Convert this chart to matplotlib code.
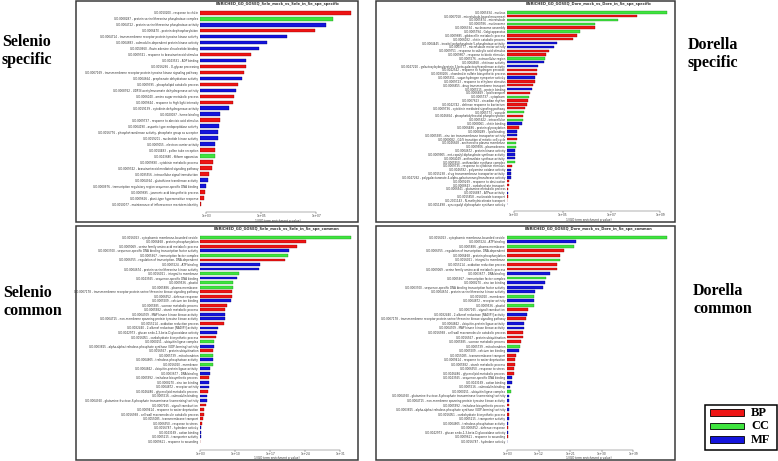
import matplotlib
matplotlib.use("Agg")
import matplotlib.pyplot as plt
from matplotlib.patches import Rectangle
import numpy as np

W, H = 778, 461

COLORS = {"BP": "#ee1414", "CC": "#3fe43f", "MF": "#1414dc"}
EDGES = {"BP": "#8a0000", "CC": "#1a8a1a", "MF": "#00006a"}

# ---------------- Selenio specific ----------------
sel_spec_terms = [
    "GO:0010200 - response to chitin",
    "GO:0008287 - protein serine/threonine phosphatase complex",
    "GO:0004722 - protein serine/threonine phosphatase activity",
    "GO:0006470 - protein dephosphorylation",
    "GO:0004714 - transmembrane receptor protein tyrosine kinase activity",
    "GO:0004683 - calmodulin-dependent protein kinase activity",
    "GO:0050660 - flavin adenine dinucleotide binding",
    "GO:0009741 - response to brassinosteroid stimulus",
    "GO:0043531 - ADP binding",
    "GO:0016266 - O-glycan processing",
    "GO:0007169 - transmembrane receptor protein tyrosine kinase signaling pathway",
    "GO:0004664 - prephenate dehydratase activity",
    "GO:0009395 - phospholipid catabolic process",
    "GO:0008762 - UDP-N-acetylmuramate dehydrogenase activity",
    "GO:0006040 - amino sugar metabolic process",
    "GO:0009644 - response to high light intensity",
    "GO:0019139 - cytokinin dehydrogenase activity",
    "GO:0020037 - heme binding",
    "GO:0009737 - response to abscisic acid stimulus",
    "GO:0004190 - aspartic-type endopeptidase activity",
    "GO:0016776 - phosphotransferase activity, phosphate group as acceptor",
    "GO:0019201 - nucleotide kinase activity",
    "GO:0009055 - electron carrier activity",
    "GO:0010483 - pollen tube reception",
    "GO:0043680 - filiform apparatus",
    "GO:0009690 - cytokinin metabolic process",
    "GO:0009742 - brassinosteroid mediated signaling pathway",
    "GO:0035556 - intracellular signal transduction",
    "GO:0004364 - glutathione transferase activity",
    "GO:0000976 - transcription regulatory region sequence-specific DNA binding",
    "GO:0009695 - jasmonic acid biosynthetic process",
    "GO:0009626 - plant-type hypersensitive response",
    "GO:0010077 - maintenance of inflorescence meristem identity",
]
sel_spec_cat = ["BP", "CC", "MF", "BP", "MF", "MF", "MF", "BP", "MF", "BP", "BP",
                "MF", "BP", "MF", "BP", "BP", "MF", "MF", "BP", "MF", "MF", "MF",
                "MF", "BP", "CC", "BP", "BP", "BP", "MF", "MF", "BP", "BP", "BP"]
# log10(1/p)
sel_spec_val = [8.26, 7.60, 7.34, 6.96, 5.94, 5.21, 4.93, 4.63, 4.45, 4.44, 4.38,
                4.31, 4.14, 4.10, 4.02, 3.97, 3.83, 3.52, 3.50, 3.46, 3.44, 3.43,
                3.34, 3.31, 3.31, 3.24, 3.23, 3.10, 3.07, 2.99, 2.96, 2.94, 2.83]
sel_spec_ticks = [3, 5, 7]

# ---------------- Dorella specific ----------------
dor_spec_terms = [
    "GO:0005634 - nucleus",
    "GO:0007018 - microtubule-based movement",
    "GO:0005874 - microtubule",
    "GO:0000786 - nucleosome",
    "GO:0006334 - nucleosome assembly",
    "GO:0005794 - Golgi apparatus",
    "GO:0009685 - gibberellin metabolic process",
    "GO:0006032 - chitin catabolic process",
    "GO:0004445 - inositol-polyphosphate 5-phosphatase activity",
    "GO:0003777 - microtubule motor activity",
    "GO:0009751 - response to salicylic acid stimulus",
    "GO:0009607 - response to biotic stimulus",
    "GO:0005576 - extracellular region",
    "GO:0004568 - chitinase activity",
    "GO:0047220 - galactosylxylosylprotein 3-beta-galactosyltransferase activity",
    "GO:0042542 - response to hydrogen peroxide",
    "GO:0030206 - chondroitin sulfate biosynthetic process",
    "GO:0005351 - sugar:hydrogen symporter activity",
    "GO:0009723 - response to ethylene stimulus",
    "GO:0006855 - drug transmembrane transport",
    "GO:0005515 - protein binding",
    "GO:0006869 - lipid transport",
    "GO:0005737 - cytoplasm",
    "GO:0007623 - circadian rhythm",
    "GO:0042742 - defense response to bacterium",
    "GO:0009736 - cytokinin mediated signaling pathway",
    "GO:0005773 - vacuole",
    "GO:0046854 - phosphatidylinositol phosphorylation",
    "GO:0005622 - intracellular",
    "GO:0008061 - chitin binding",
    "GO:0006486 - protein glycosylation",
    "GO:0008289 - lipid binding",
    "GO:0005385 - zinc ion transmembrane transporter activity",
    "GO:0000082 - G1/S transition of mitotic cell cycle",
    "GO:0046658 - anchored to plasma membrane",
    "GO:0009506 - plasmodesma",
    "GO:0004672 - protein kinase activity",
    "GO:0009905 - ent-copalyl diphosphate synthase activity",
    "GO:0004049 - anthranilate synthase activity",
    "GO:0005950 - anthranilate synthase complex",
    "GO:0009735 - response to cytokinin stimulus",
    "GO:0046592 - polyamine oxidase activity",
    "GO:0015238 - drug transmembrane transporter activity",
    "GO:0047262 - polygalacturonate 4-alpha-galacturonosyltransferase activity",
    "GO:0009269 - response to desiccation",
    "GO:0008643 - carbohydrate transport",
    "GO:0006541 - glutamine metabolic process",
    "GO:0016887 - ATPase activity",
    "GO:0015858 - nucleoside transport",
    "GO:2001143 - N-methylnicotinate transport",
    "GO:0051498 - syn-copalyl diphosphate synthase activity",
]
dor_spec_cat = ["CC", "BP", "CC", "CC", "BP", "CC", "BP", "BP", "MF", "MF", "BP",
                "BP", "CC", "MF", "MF", "BP", "BP", "MF", "BP", "BP", "MF", "BP",
                "CC", "BP", "BP", "BP", "CC", "BP", "CC", "MF", "BP", "MF", "MF",
                "BP", "CC", "CC", "MF", "MF", "MF", "CC", "BP", "MF", "MF", "MF",
                "BP", "BP", "BP", "MF", "BP", "BP", "MF"]
dor_spec_val = [9.27, 8.04, 7.25, 6.33, 6.31, 5.72, 5.61, 5.43, 4.76, 4.65, 4.45,
                4.33, 4.26, 4.22, 4.01, 3.96, 3.94, 3.86, 3.86, 3.77, 3.74, 3.66,
                3.63, 3.59, 3.53, 3.46, 3.41, 3.37, 3.36, 3.33, 3.20, 3.12, 3.12,
                3.12, 3.10, 3.10, 3.04, 3.04, 3.03, 3.03, 2.93, 2.89, 2.88, 2.88,
                2.82, 2.81, 2.77, 2.75, 2.75, 2.74, 2.74]
dor_spec_ticks = [3, 5, 7, 9]

# ---------------- Selenio common ----------------
sel_com_terms = [
    "GO:0016023 - cytoplasmic membrane-bounded vesicle",
    "GO:0006468 - protein phosphorylation",
    "GO:0009069 - serine family amino acid metabolic process",
    "GO:0003700 - sequence-specific DNA binding transcription factor activity",
    "GO:0005667 - transcription factor complex",
    "GO:0006355 - regulation of transcription, DNA-dependent",
    "GO:0005524 - ATP binding",
    "GO:0004674 - protein serine/threonine kinase activity",
    "GO:0016021 - integral to membrane",
    "GO:0043565 - sequence-specific DNA binding",
    "GO:0009536 - plastid",
    "GO:0005886 - plasma membrane",
    "GO:0007178 - transmembrane receptor protein serine/threonine kinase signaling pathway",
    "GO:0006952 - defense response",
    "GO:0005509 - calcium ion binding",
    "GO:0005985 - sucrose metabolic process",
    "GO:0005982 - starch metabolic process",
    "GO:0004709 - MAP kinase kinase kinase activity",
    "GO:0004715 - non-membrane spanning protein tyrosine kinase activity",
    "GO:0055114 - oxidation reduction process",
    "GO:0032440 - 2-alkenal reductase [NAD(P)] activity",
    "GO:0042973 - glucan endo-1,3-beta-D-glucosidase activity",
    "GO:0016051 - carbohydrate biosynthetic process",
    "GO:0000151 - ubiquitin ligase complex",
    "GO:0003825 - alpha,alpha-trehalose-phosphate synthase (UDP-forming) activity",
    "GO:0016567 - protein ubiquitination",
    "GO:0005739 - mitochondrion",
    "GO:0004805 - trehalose-phosphatase activity",
    "GO:0016020 - membrane",
    "GO:0004842 - ubiquitin-protein ligase activity",
    "GO:0003677 - DNA binding",
    "GO:0005992 - trehalose biosynthetic process",
    "GO:0008270 - zinc ion binding",
    "GO:0004872 - receptor activity",
    "GO:0046486 - glycerolipid metabolic process",
    "GO:0005516 - calmodulin binding",
    "GO:0004360 - glutamine-fructose-6-phosphate transaminase (isomerizing) activity",
    "GO:0007165 - signal transduction",
    "GO:0009414 - response to water deprivation",
    "GO:0016998 - cell wall macromolecule catabolic process",
    "GO:0055085 - transmembrane transport",
    "GO:0006950 - response to stress",
    "GO:0016787 - hydrolase activity",
    "GO:0043169 - cation binding",
    "GO:0005215 - transporter activity",
    "GO:0009611 - response to wounding",
]
sel_com_cat = ["CC", "BP", "BP", "MF", "CC", "BP", "MF", "MF", "CC", "MF", "CC",
               "CC", "BP", "BP", "MF", "BP", "BP", "MF", "MF", "BP", "MF", "MF",
               "BP", "CC", "MF", "BP", "CC", "MF", "CC", "MF", "MF", "BP", "MF",
               "MF", "BP", "MF", "MF", "BP", "BP", "BP", "BP", "BP", "MF", "MF",
               "MF", "BP"]
sel_com_val = [33.1, 24.2, 22.4, 20.7, 20.6, 19.9, 14.9, 14.7, 10.7, 10.4, 9.6,
               9.5, 9.4, 9.3, 9.1, 8.3, 8.0, 7.9, 7.9, 7.7, 6.5, 6.3, 6.2, 5.8,
               5.7, 5.6, 5.6, 5.5, 5.5, 4.9, 4.9, 4.8, 4.8, 4.7, 4.5, 4.3, 4.3,
               4.2, 3.7, 3.7, 3.5, 3.3, 3.2, 3.1, 3.1, 3.0]
sel_com_ticks = [3, 10, 17, 24, 31]

# ---------------- Dorella common ----------------
dor_com_terms = [
    "GO:0016023 - cytoplasmic membrane-bounded vesicle",
    "GO:0005524 - ATP binding",
    "GO:0005886 - plasma membrane",
    "GO:0006355 - regulation of transcription, DNA-dependent",
    "GO:0006468 - protein phosphorylation",
    "GO:0016021 - integral to membrane",
    "GO:0055114 - oxidation reduction process",
    "GO:0009069 - serine family amino acid metabolic process",
    "GO:0003677 - DNA binding",
    "GO:0005667 - transcription factor complex",
    "GO:0008270 - zinc ion binding",
    "GO:0003700 - sequence-specific DNA binding transcription factor activity",
    "GO:0004674 - protein serine/threonine kinase activity",
    "GO:0016020 - membrane",
    "GO:0004872 - receptor activity",
    "GO:0009536 - plastid",
    "GO:0007165 - signal transduction",
    "GO:0032440 - 2-alkenal reductase [NAD(P)] activity",
    "GO:0007178 - transmembrane receptor protein serine/threonine kinase signaling pathway",
    "GO:0004842 - ubiquitin-protein ligase activity",
    "GO:0004709 - MAP kinase kinase kinase activity",
    "GO:0016998 - cell wall macromolecule catabolic process",
    "GO:0016567 - protein ubiquitination",
    "GO:0005985 - sucrose metabolic process",
    "GO:0005739 - mitochondrion",
    "GO:0005509 - calcium ion binding",
    "GO:0055085 - transmembrane transport",
    "GO:0009414 - response to water deprivation",
    "GO:0005982 - starch metabolic process",
    "GO:0006950 - response to stress",
    "GO:0046486 - glycerolipid metabolic process",
    "GO:0043565 - sequence-specific DNA binding",
    "GO:0043169 - cation binding",
    "GO:0005516 - calmodulin binding",
    "GO:0000151 - ubiquitin ligase complex",
    "GO:0004360 - glutamine-fructose-6-phosphate transaminase (isomerizing) activity",
    "GO:0004715 - non-membrane spanning protein tyrosine kinase activity",
    "GO:0005992 - trehalose biosynthetic process",
    "GO:0003825 - alpha,alpha-trehalose-phosphate synthase (UDP-forming) activity",
    "GO:0016051 - carbohydrate biosynthetic process",
    "GO:0005215 - transporter activity",
    "GO:0004805 - trehalose-phosphatase activity",
    "GO:0006952 - defense response",
    "GO:0042973 - glucan endo-1,3-beta-D-glucosidase activity",
    "GO:0009611 - response to wounding",
    "GO:0016787 - hydrolase activity",
]
dor_com_cat = ["CC", "MF", "CC", "BP", "BP", "CC", "BP", "BP", "MF", "CC", "MF",
               "MF", "MF", "CC", "MF", "CC", "BP", "MF", "BP", "MF", "MF", "BP",
               "BP", "BP", "CC", "MF", "BP", "BP", "BP", "BP", "BP", "MF", "MF",
               "MF", "CC", "MF", "MF", "BP", "MF", "BP", "MF", "MF", "BP", "MF",
               "BP", "MF"]
dor_com_val = [48.5, 22.5, 22.0, 19.2, 18.0, 18.0, 17.2, 17.1, 15.3, 14.0, 13.9,
               13.3, 10.8, 10.7, 10.6, 10.6, 8.9, 8.5, 8.4, 7.8, 7.7, 7.5, 7.4,
               6.8, 6.5, 6.3, 5.4, 5.3, 5.3, 4.9, 4.8, 4.4, 4.4, 3.8, 3.9, 3.6,
               3.6, 3.5, 3.5, 3.5, 3.4, 3.3, 3.2, 3.1, 3.1, 2.95]
dor_com_ticks = [3, 12, 21, 30, 39]

fig = plt.figure(figsize=(W / 100, H / 100), dpi=100)
fig.patch.set_facecolor("white")


def frac_rect(l, t, r, b):
    return [l / W, 1 - b / H, (r - l) / W, (b - t) / H]


def panel(terms, cats, vals, ticks, title, box, ax_px, xlim, spine_out, title_y):
    l, t, r, b = box
    fig.add_artist(Rectangle((l / W, 1 - b / H), (r - l) / W, (b - t) / H,
                             transform=fig.transFigure, fill=False,
                             edgecolor="#3a3a3a", linewidth=1.1))
    ax = fig.add_axes(frac_rect(*ax_px))
    n = len(terms)
    y = np.arange(n)
    v = np.array(vals)
    ax.barh(y, v - xlim[0], left=xlim[0], height=0.62,
            color=[COLORS[c] for c in cats],
            edgecolor=[EDGES[c] for c in cats], linewidth=0.25)
    ax.set_xlim(*xlim)
    ax.set_ylim(n - 0.5, -0.5)
    ax.set_yticks(y, labels=terms)
    ax.tick_params(axis="y", length=0, pad=1.2, labelsize=2.0, labelcolor="#333333")
    ax.set_xticks(ticks, labels=["1e+%02d" % k for k in ticks])
    ax.tick_params(axis="x", length=1.2, width=0.3, pad=0.4, color="#444444",
                   labelsize=2.1, labelcolor="#333333")
    for s in ("left", "top", "right"):
        ax.spines[s].set_visible(False)
    ax.spines["bottom"].set_position(("outward", spine_out))
    ax.spines["bottom"].set_bounds(ticks[0], ticks[-1])
    ax.spines["bottom"].set_linewidth(0.3)
    ax.spines["bottom"].set_color("#444444")
    ax.set_xlabel("1/(GO term enrichment p value)", fontsize=2.1,
                  color="#333333", labelpad=0.3)
    ax.patch.set_alpha(0)
    cx = (ax_px[0] + ax_px[2]) / 2
    fig.text(cx / W, 1 - title_y / H, title, fontsize=2.6, fontweight="bold",
             ha="center", va="center", color="#333333")
    return ax


panel(sel_spec_terms, sel_spec_cat, sel_spec_val, sel_spec_ticks,
      "ENRICHED_GO_GOSEQ_Sele_mock_vs_Sele_in_Se_spe_specific",
      (76, 1, 358, 222), (200, 9.7, 355, 207.0), (2.78, 8.4), 3.6, 3.5)

panel(dor_spec_terms, dor_spec_cat, dor_spec_val, dor_spec_ticks,
      "ENRICHED_GO_GOSEQ_Dore_mock_vs_Dore_in_Se_spe_specific",
      (376, 1, 675, 222), (506.7, 10.4, 670, 206.2), (2.71, 9.4), 3.6, 3.5)

panel(sel_com_terms, sel_com_cat, sel_com_val, sel_com_ticks,
      "ENRICHED_GO_GOSEQ_Sele_mock_vs_Sele_in_Se_spe_common",
      (76, 226, 358, 460), (199.7, 235.0, 354, 443.6), (2.93, 33.8), 4.3, 228.5)

panel(dor_com_terms, dor_com_cat, dor_com_val, dor_com_ticks,
      "ENRICHED_GO_GOSEQ_Dore_mock_vs_Dore_in_Se_spe_common",
      (376, 226, 675, 460), (506.7, 235.0, 670, 443.6), (2.81, 49.5), 4.3, 228.5)

# side labels
serif = ["Liberation Serif", "DejaVu Serif"]
for txt, x, y in [("Selenio\nspecific", 2, 51), ("Dorella\nspecific", 688, 54),
                  ("Selenio\ncommon", 3, 302), ("Dorella\ncommon", 693, 300)]:
    fig.text(x / W, 1 - y / H, txt, fontsize=11.5, fontweight="bold", family=serif,
             ha="left", va="center", linespacing=1.2, color="black")

# legend
fig.add_artist(Rectangle((705 / W, 1 - 450 / H), 72 / W, 45 / H,
                         transform=fig.transFigure, fill=False,
                         edgecolor="black", linewidth=1.1))
for lab, yc in [("BP", 412.7), ("CC", 426.0), ("MF", 439.5)]:
    fig.add_artist(Rectangle((710 / W, 1 - (yc + 3.4) / H), 34 / W, 6.8 / H,
                             transform=fig.transFigure, facecolor=COLORS[lab],
                             edgecolor="black", linewidth=0.6))
    fig.text(751 / W, 1 - yc / H, lab, fontsize=9, fontweight="bold",
             family=serif, ha="left", va="center", color="black")

fig.savefig("out.png", dpi=100, facecolor="white")
